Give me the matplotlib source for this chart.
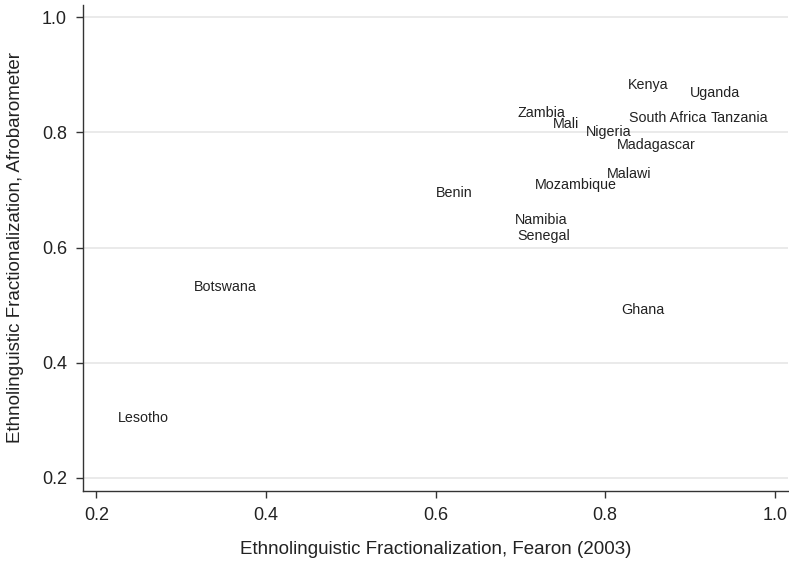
import matplotlib
matplotlib.use("Agg")
import matplotlib.pyplot as plt

countries = ["Kenya", "Uganda", "Zambia", "South Africa", "Tanzania", "Mali",
             "Nigeria", "Madagascar", "Malawi", "Mozambique", "Namibia",
             "Senegal", "Benin", "Ghana", "Botswana", "Lesotho"]
fearon = [0.851, 0.929, 0.725, 0.874, 0.958, 0.754,
          0.804, 0.860, 0.828, 0.765, 0.724,
          0.727, 0.622, 0.845, 0.352, 0.255]
afrobarometer = [0.882, 0.868, 0.834, 0.825, 0.825, 0.814,
                 0.801, 0.778, 0.727, 0.708, 0.647,
                 0.620, 0.695, 0.491, 0.531, 0.304]
xticks = [0.2, 0.4, 0.6, 0.8, 1.0]
yticks = [0.2, 0.4, 0.6, 0.8, 1.0]

plt.rcParams['font.family'] = ['Liberation Sans', 'DejaVu Sans']
txt = '#222222'
axc = '#333333'

fig = plt.figure(figsize=(7.89, 5.62), dpi=100)
ax = fig.add_axes([83.3/789, 1 - 490.7/562, (787.5 - 83.3)/789, (490.7 - 5)/562])

for c, x, y in zip(countries, fearon, afrobarometer):
    ax.text(x, y, c, ha='center', va='center', fontsize=10.3, color=txt)

ax.set_xlim(0.1847, 1.015)
ax.set_ylim(0.1774, 1.0214)
ax.set_xticks(xticks)
ax.set_yticks(yticks)
ax.set_xticklabels([f"{v:.1f}" for v in xticks])
ax.set_yticklabels([f"{v:.1f}" for v in yticks])
ax.tick_params(axis='both', direction='out', length=5.2, width=1, color=axc,
               labelsize=13, labelcolor=txt, pad=6.5)

ax.yaxis.grid(True, color='#e6e6e6', linewidth=1.2)
ax.xaxis.grid(False)
ax.set_axisbelow(True)

for s in ['top', 'right']:
    ax.spines[s].set_visible(False)
for s in ['left', 'bottom']:
    ax.spines[s].set_color(axc)
    ax.spines[s].set_linewidth(1)

ax.set_xlabel("Ethnolinguistic Fractionalization, Fearon (2003)", fontsize=13.5,
              color=txt, va='center')
ax.set_ylabel("Ethnolinguistic Fractionalization, Afrobarometer", fontsize=13.5,
              color=txt, va='center')
ax.xaxis.set_label_coords(0.5, -(550 - 490.7) / 485.7)
ax.yaxis.set_label_coords(-(83.3 - 15.5) / 704.2, 0.5)

fig.savefig("out.png", dpi=100)
